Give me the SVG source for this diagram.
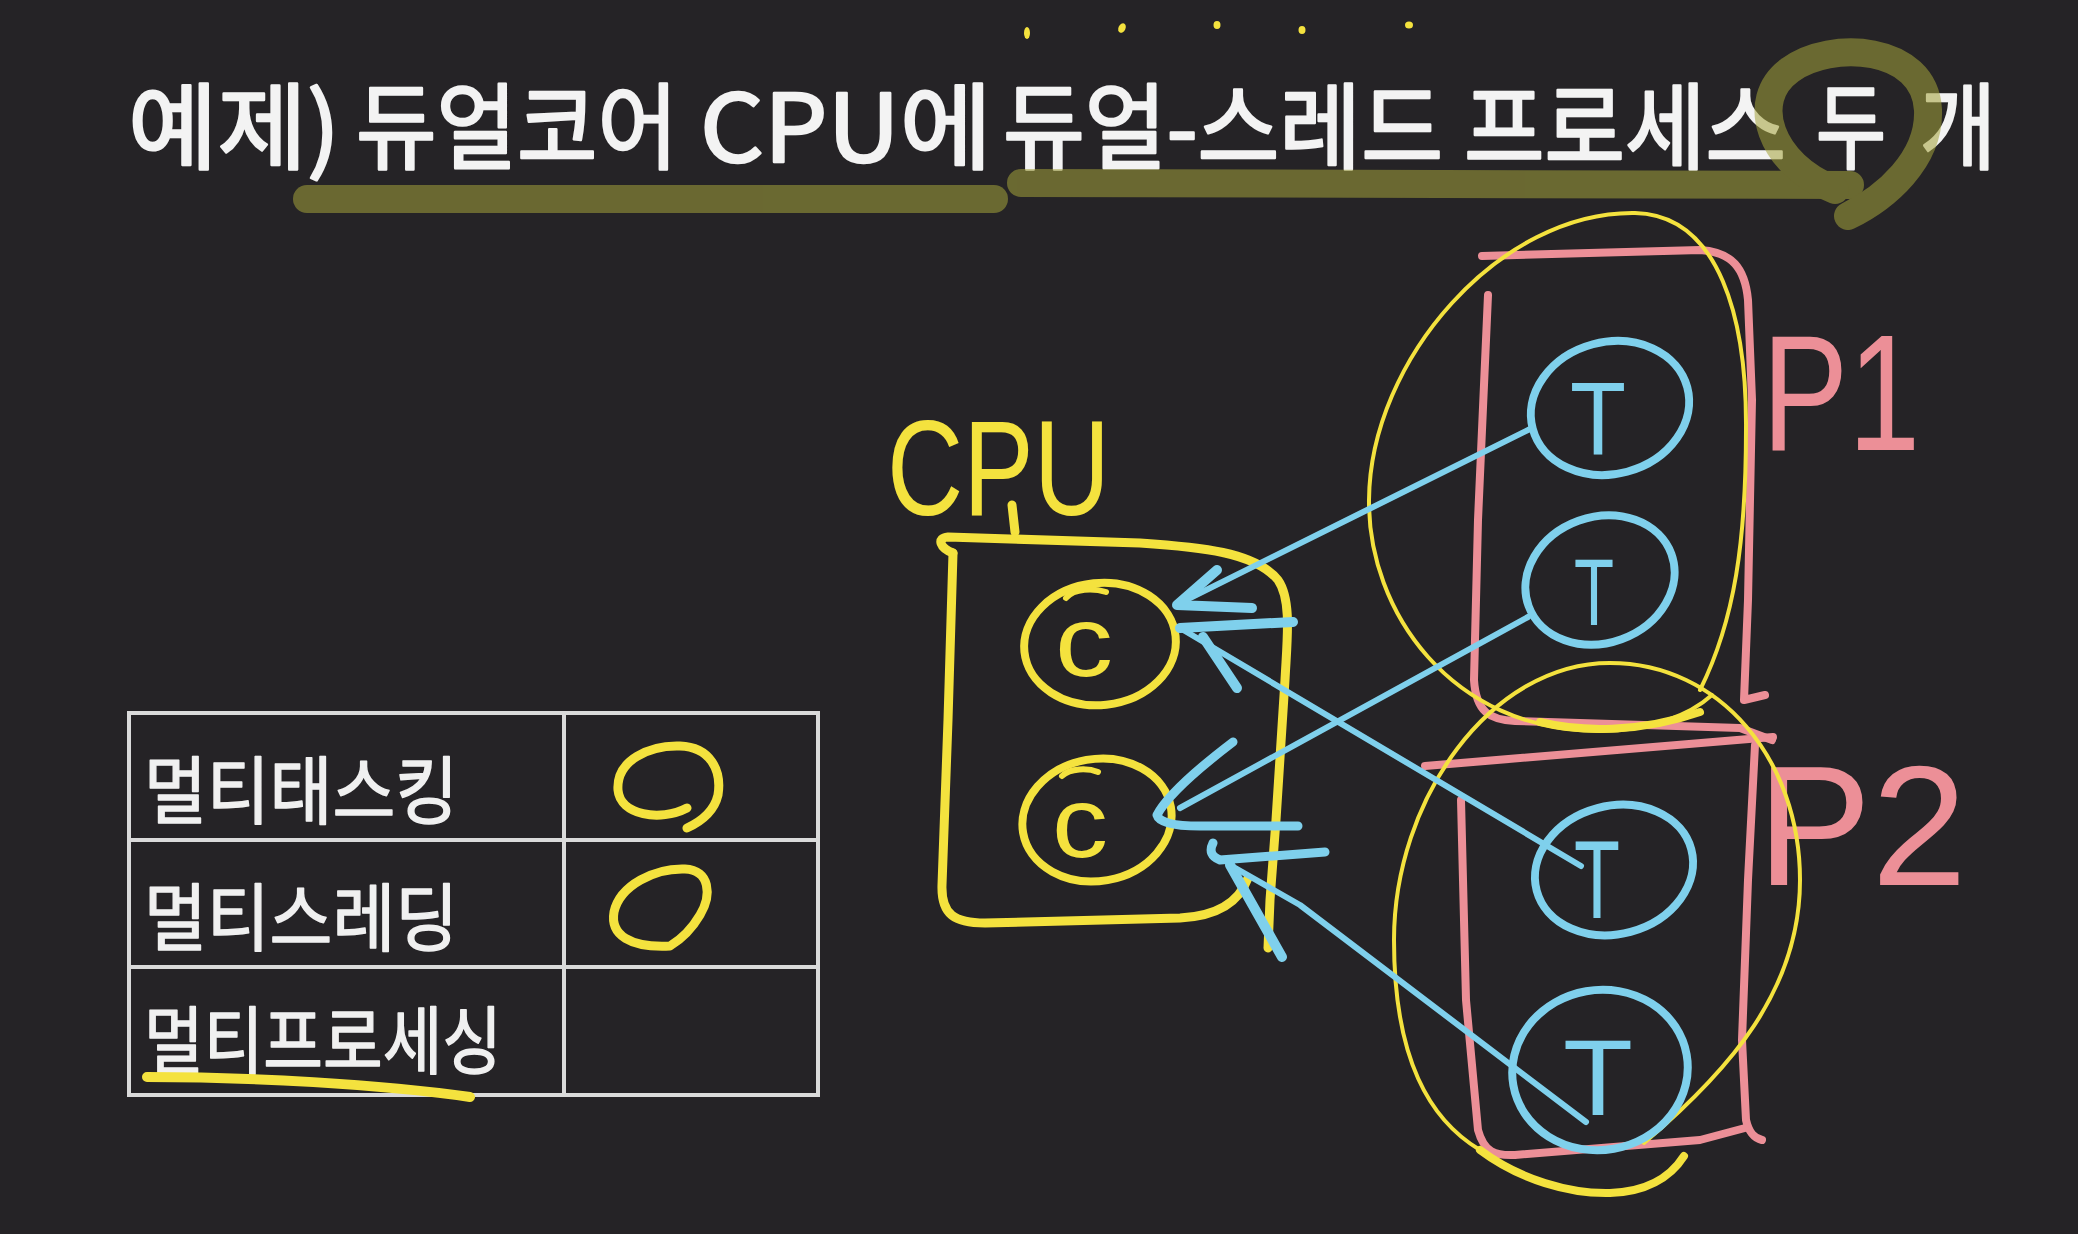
<svg xmlns="http://www.w3.org/2000/svg" width="2078" height="1234" viewBox="0 0 2078 1234">
<defs>
<style>
.ttl{font-family:"Noto Sans CJK KR","Noto Sans",sans-serif;font-size:94px;fill:#f3f3f3;stroke:#f3f3f3;stroke-width:2.5;stroke-linejoin:round}
.tb{font-family:"Noto Sans CJK KR","Noto Sans",sans-serif;font-size:74px;fill:#f0f0f0;stroke:#f0f0f0;stroke-width:1.5;stroke-linejoin:round}
.lbl{font-family:"Liberation Sans","DejaVu Sans",sans-serif}
.y{fill:none;stroke:#f4e23e;stroke-linecap:round;stroke-linejoin:round}
.b{fill:none;stroke:#7fd0ec;stroke-linecap:round;stroke-linejoin:round}
.p{fill:none;stroke:#ec8f97;stroke-linecap:round;stroke-linejoin:round}
.hl{fill:none;stroke:#a4a33a;stroke-width:28;stroke-linecap:round;stroke-linejoin:round}
.grid{fill:none;stroke:#dadada;stroke-width:4}
</style>
</defs>
<rect width="2078" height="1234" fill="#252326"/>

<g id="title">
<text class="ttl" x="128" y="162" textLength="212" lengthAdjust="spacingAndGlyphs">예제)</text>
<text class="ttl" x="356" y="162" textLength="322" lengthAdjust="spacingAndGlyphs">듀얼코어</text>
<text class="ttl" x="700" y="162" textLength="292" lengthAdjust="spacingAndGlyphs">CPU에</text>
<text class="ttl" x="1003" y="162" textLength="440" lengthAdjust="spacingAndGlyphs">듀얼-스레드</text>
<text class="ttl" x="1464" y="162" textLength="322" lengthAdjust="spacingAndGlyphs">프로세스</text>
<text class="ttl" x="1816" y="162" textLength="70" lengthAdjust="spacingAndGlyphs">두</text>
<text class="ttl" x="1920" y="162" textLength="76" lengthAdjust="spacingAndGlyphs">개</text>
<g opacity="0.55">
<path class="hl" d="M 307,199 L 994,199"/>
<path class="hl" d="M 1021,183 L 1850,185"/>
<path class="hl" d="M 1835,190 C 1770,165 1748,100 1790,70 C 1830,40 1925,45 1928,110 C 1930,160 1885,198 1848,216"/>
</g>
<g fill="#f4e23e">
<ellipse cx="1027" cy="33" rx="3" ry="6"/>
<ellipse cx="1122" cy="28" rx="3.5" ry="5" transform="rotate(25 1122 28)"/>
<ellipse cx="1217" cy="25" rx="3.5" ry="4"/>
<ellipse cx="1302" cy="30" rx="3.5" ry="4"/>
<ellipse cx="1409" cy="25" rx="4" ry="3.5"/>
</g>
</g>

<g id="cpu">
<text class="lbl" x="887" y="515" font-size="135" textLength="223" lengthAdjust="spacingAndGlyphs" fill="#f4e23e">CPU</text>
<path class="y" stroke-width="9" d="M 1012,505 L 1015,532"/>
<path class="y" stroke-width="9" d="M 953,553 C 940,548 936,538 948,537 L 1140,543 C 1200,547 1255,552 1278,580 C 1292,600 1287,640 1285,680 L 1276,820 L 1270,900 L 1268,948"/>
<path class="y" stroke-width="9" d="M 953,553 L 948,720 L 942,885 C 941,915 955,923 985,923 L 1180,918 C 1220,916 1240,900 1248,878"/>
</g>

<g id="core1">
<ellipse class="y" stroke-width="8" cx="1100" cy="644" rx="76" ry="61" transform="rotate(-6 1100 644)"/>
<path class="y" stroke-width="6" d="M 1066,598 C 1074,588 1094,588 1106,592"/>
<text class="lbl" x="1055" y="676" font-size="100" textLength="58" lengthAdjust="spacingAndGlyphs" fill="#f4e23e">c</text>
</g>
<g id="core2">
<ellipse class="y" stroke-width="8" cx="1097" cy="820" rx="75" ry="61" transform="rotate(-10 1097 820)"/>
<path class="y" stroke-width="6" d="M 1062,776 C 1070,768 1088,768 1098,772"/>
<text class="lbl" x="1052" y="857" font-size="100" textLength="56" lengthAdjust="spacingAndGlyphs" fill="#f4e23e">c</text>
</g>

<g id="p1">
<path class="p" stroke-width="8" d="M 1482,256 L 1700,250 C 1732,252 1745,268 1748,300 L 1752,400 L 1748,600 L 1744,700 L 1765,695"/>
<path class="p" stroke-width="8" d="M 1488,295 L 1478,520 L 1474,680 C 1476,712 1490,720 1515,721 L 1740,728 L 1772,740"/>
<text class="lbl" x="1762" y="450" font-size="165" textLength="158" lengthAdjust="spacingAndGlyphs" fill="#ec8f97">P1</text>
<path class="y" stroke-width="4" d="M 1700,690 C 1735,620 1746,540 1746,430 C 1747,320 1720,215 1635,213 C 1500,211 1370,360 1369,500 C 1368,610 1450,731 1600,731 C 1650,731 1690,715 1712,695"/>
<path class="y" stroke-width="8" d="M 1540,722 C 1580,732 1640,733 1700,712"/>
</g>

<g id="p2">
<path class="p" stroke-width="8" d="M 1425,766 L 1773,737"/>
<path class="p" stroke-width="8" d="M 1755,745 L 1748,880 L 1742,1040 L 1746,1120 C 1749,1133 1754,1138 1762,1140"/>
<path class="p" stroke-width="8" d="M 1461,800 L 1466,1000 L 1478,1130 C 1484,1152 1495,1156 1515,1155 L 1700,1140 L 1745,1128"/>
<text class="lbl" x="1757" y="885" font-size="170" textLength="210" lengthAdjust="spacingAndGlyphs" fill="#ec8f97">P2</text>
<path class="y" stroke-width="4" d="M 1644,1143 C 1730,1070 1800,990 1800,880 C 1800,760 1720,663 1610,663 C 1490,663 1394,800 1394,940 C 1394,1060 1430,1120 1480,1150"/>
<path class="y" stroke-width="8" d="M 1480,1150 C 1520,1180 1570,1194 1610,1193 C 1645,1192 1670,1178 1684,1156"/>
</g>

<g id="t1">
<ellipse class="b" stroke-width="8" cx="1610" cy="408" rx="80" ry="66" transform="rotate(-15 1610 408)"/>
<text class="lbl" x="1570" y="455" font-size="104" textLength="56" lengthAdjust="spacingAndGlyphs" fill="#7fd0ec">T</text>
</g>
<g id="t2">
<ellipse class="b" stroke-width="8" cx="1600" cy="580" rx="76" ry="63" transform="rotate(-20 1600 580)"/>
<text class="lbl" x="1574" y="625" font-size="95" textLength="40" lengthAdjust="spacingAndGlyphs" fill="#7fd0ec">T</text>
</g>
<g id="t3">
<ellipse class="b" stroke-width="8" cx="1614" cy="870" rx="80" ry="64" transform="rotate(-15 1614 870)"/>
<text class="lbl" x="1574" y="918" font-size="112" textLength="46" lengthAdjust="spacingAndGlyphs" fill="#7fd0ec">T</text>
</g>
<g id="t4">
<ellipse class="b" stroke-width="8" cx="1600" cy="1070" rx="88" ry="80" transform="rotate(-10 1600 1070)"/>
<text class="lbl" x="1563" y="1115" font-size="108" textLength="70" lengthAdjust="spacingAndGlyphs" fill="#7fd0ec">T</text>
</g>

<g id="connectors">
<path class="b" stroke-width="6" d="M 1532,428 L 1178,604"/>
<path class="b" stroke-width="10" d="M 1217,570 L 1177,605 L 1252,608"/>
<path class="b" stroke-width="6" d="M 1581,866 L 1180,628"/>
<path class="b" stroke-width="10" d="M 1293,622 L 1180,628"/>
<path class="b" stroke-width="10" d="M 1203,637 L 1237,688"/>
<path class="b" stroke-width="6" d="M 1528,617 L 1180,808"/>
<path class="b" stroke-width="9" d="M 1233,742 Q 1170,790 1157,815 Q 1160,826 1200,826 L 1298,826"/>
<path class="b" stroke-width="6" d="M 1586,1122 L 1300,905 L 1230,865"/>
<path class="b" stroke-width="9" d="M 1213,843 Q 1207,855 1220,860 L 1325,852"/>
<path class="b" stroke-width="10" d="M 1230,865 L 1282,957"/>
</g>

<g id="table">
<rect class="grid" x="129" y="713" width="689" height="382"/>
<line class="grid" x1="564" y1="713" x2="564" y2="1095"/>
<line class="grid" x1="129" y1="840" x2="818" y2="840"/>
<line class="grid" x1="129" y1="967" x2="818" y2="967"/>
<text class="tb" x="144" y="818" textLength="314" lengthAdjust="spacingAndGlyphs">멀티태스킹</text>
<text class="tb" x="144" y="945" textLength="314" lengthAdjust="spacingAndGlyphs">멀티스레딩</text>
<text class="tb" x="144" y="1068" textLength="358" lengthAdjust="spacingAndGlyphs">멀티프로세싱</text>
<path class="y" stroke-width="9" d="M 687,808 C 660,822 620,815 618,790 C 616,760 650,745 680,746 C 710,747 722,770 718,795 C 714,812 700,822 687,828"/>
<path class="y" stroke-width="9" d="M 670,946 C 630,948 610,935 614,912 C 620,885 655,868 685,869 C 710,870 712,895 700,915 C 690,932 680,940 670,946 Z"/>
<path class="y" stroke-width="10" d="M 147,1077 C 250,1077 380,1084 470,1097"/>
</g>
</svg>
